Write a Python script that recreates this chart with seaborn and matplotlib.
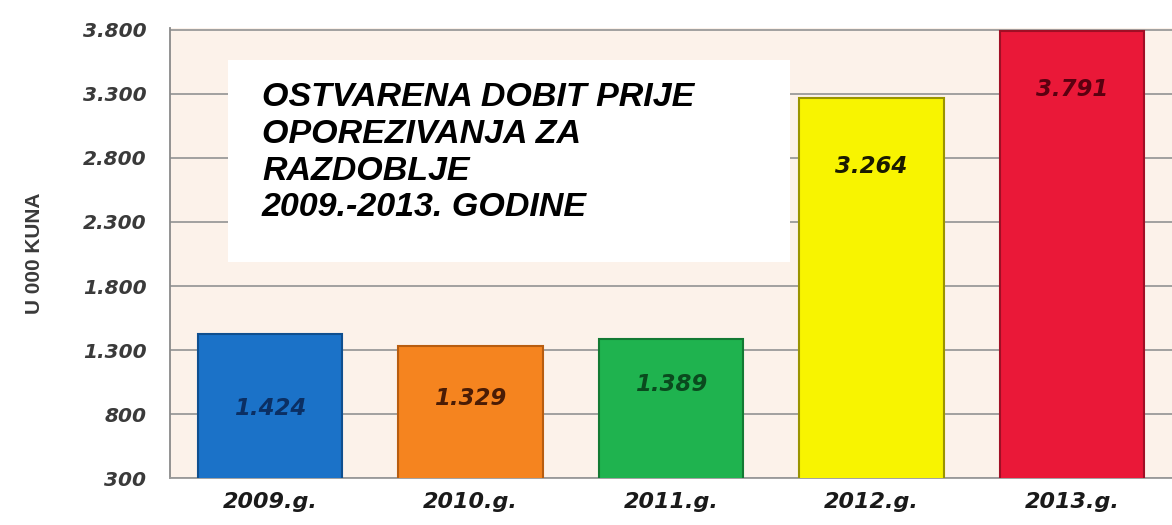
import numpy as np
import pandas as pd
import seaborn as sns
import matplotlib.pyplot as plt
from matplotlib.ticker import FuncFormatter, FixedLocator

# data
years = ["2009.g.", "2010.g.", "2011.g.", "2012.g.", "2013.g."]
profit = [1424, 1329, 1389, 3264, 3791]
value_labels = ["1.424", "1.329", "1.389", "3.264", "3.791"]
y_ticks = [300, 800, 1300, 1800, 2300, 2800, 3300, 3800]

bar_colors = ["#1b72c8", "#f5841f", "#1fb34f", "#f8f400", "#ea1838"]
edge_colors = ["#0f4f8f", "#b85d10", "#137a33", "#9a9400", "#a00f25"]
label_colors = ["#0b2f63", "#4a1c05", "#0a4a1e", "#1a1a00", "#5a0010"]
label_drop = [-74, -52, -46, -68, -59]   # px below bar top

df = pd.DataFrame({"year": years, "profit": profit})

sns.set_style("white")
plt.rcParams["font.family"] = ["DejaVu Sans"]

fig = plt.figure(figsize=(11.72, 5.25), dpi=100)
ax = fig.add_axes([0.145, 0.089, 0.855, 0.858])
ax.set_facecolor("#fcf2ea")

sns.barplot(data=df, x="year", y="profit", hue="year", palette=bar_colors,
            width=0.72, legend=False, ax=ax, zorder=3, saturation=1)

for bar, ec in zip(ax.patches, edge_colors):
    bar.set_edgecolor(ec)
    bar.set_linewidth(1.5)

ax.set_ylim(300, 3815)
ax.set_xlim(-0.5, 4.5)
ax.yaxis.set_major_locator(FixedLocator(y_ticks))
ax.yaxis.set_major_formatter(FuncFormatter(lambda v, p: f"{int(v):,}".replace(",", ".")))
ax.grid(axis="y", color="#9a9a9a", linewidth=1.3, zorder=0)
ax.set_axisbelow(True)

for s in ["top", "right"]:
    ax.spines[s].set_visible(False)
ax.spines["left"].set_color("#8a8a8a")
ax.spines["bottom"].set_color("#9a9a9a")
ax.spines["left"].set_linewidth(1.3)
ax.spines["bottom"].set_linewidth(1.3)

ax.tick_params(axis="y", length=9, color="#9a9a9a", width=1.3, pad=8,
               labelsize=14.5, labelcolor="#3a3a3a")
ax.tick_params(axis="x", length=0, pad=10, labelsize=16, labelcolor="#1a1a1a")
ax.set_xticks(np.arange(-0.5, 5, 1), minor=True)
ax.tick_params(axis="x", which="minor", length=4, color="#9a9a9a")
for lab in ax.get_yticklabels() + ax.get_xticklabels():
    lab.set_fontweight("bold")
    lab.set_fontstyle("italic")

ax.set_xlabel("")
ax.set_ylabel("U 000 KUNA", fontsize=15, fontweight="bold", color="#3a3a3a",
              labelpad=28, family=["Liberation Sans", "DejaVu Sans"])

for i, (v, t) in enumerate(zip(profit, value_labels)):
    ax.annotate(t, (i, v), xytext=(0, label_drop[i]), textcoords="offset pixels",
                ha="center", va="center", fontsize=16.5, fontweight="bold",
                fontstyle="italic", color=label_colors[i], zorder=5)

# white title box
fig.patches.append(plt.Rectangle((228 / 1172, 1 - 262 / 525), 562 / 1172, 202 / 525,
                                 transform=fig.transFigure, facecolor="white",
                                 edgecolor="none", zorder=4))
fig.text(262 / 1172, 1 - 82 / 525,
         "OSTVARENA DOBIT PRIJE\nOPOREZIVANJA ZA\nRAZDOBLJE\n2009.-2013. GODINE",
         ha="left", va="top", fontsize=24.5, fontweight="bold", fontstyle="italic",
         color="black", linespacing=1.24, zorder=5,
         family=["Liberation Sans", "DejaVu Sans"])

fig.savefig("out.png", dpi=100)
